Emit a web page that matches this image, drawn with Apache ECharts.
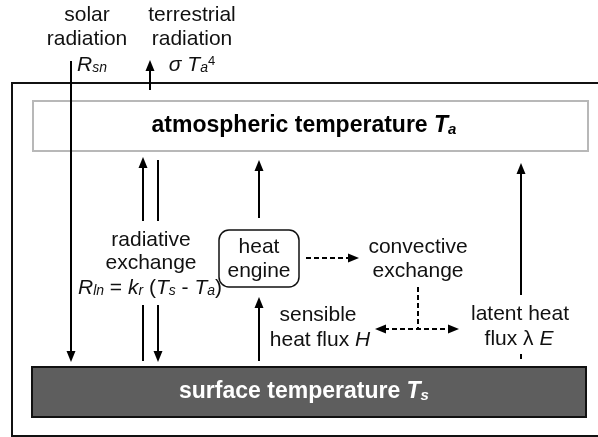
<!DOCTYPE html>
<html><head><meta charset="utf-8">
<script src="https://cdn.jsdelivr.net/npm/echarts@6/dist/echarts.min.js"></script>
<style>html,body{margin:0;padding:0;background:#fff}#c{width:598px;height:437px}</style>
</head><body><div id="c"></div>
<script>
// ---- diagram data (diagram coordinate space 0..598 x 0..437, y downward) ----
const boxNames = ['frame', 'atmosphere', 'surface', 'engine'];
const boxCorners = [
  [12, 83, 606, 436],
  [33, 101, 588, 151],
  [32, 367, 586, 417],
  [219, 230, 299, 287]
];
// [x1, y1, x2, y2, headAtEnd, headAtStart]
const solidArrows = [
  [71, 61, 71, 362, 1, 0],     // solar radiation
  [150, 90, 150, 60, 1, 0],    // terrestrial radiation
  [143, 221, 143, 157, 1, 0],  // radiative up
  [158, 160, 158, 221, 0, 0],
  [143, 305, 143, 361, 0, 0],
  [158, 305, 158, 362, 1, 0],  // radiative down
  [259, 218, 259, 160, 1, 0],  // engine -> atmosphere
  [259, 361, 259, 297, 1, 0],  // surface -> engine
  [521, 295, 521, 163, 1, 0]   // latent -> atmosphere
];
const dashedArrows = [
  [306, 258, 359, 258, 1, 0],
  [418, 287, 418, 329, 0, 0],
  [375, 329, 459, 329, 1, 1],
  [521, 354, 521, 361, 0, 0]
];
const labelTexts = [
  '{n|solar}', '{n|radiation}', '{i|R}{s|sn}',
  '{n|terrestrial}', '{n|radiation}', '{i|σ T}{s|a}{p|4}',
  '{n|radiative}', '{n|exchange}',
  '{i|R}{s|ln}{n| = }{i|k}{s|r}{n| (}{i|T}{s|s}{n| - }{i|T}{s|a}{n|)}',
  '{n|heat}', '{n|engine}',
  '{n|convective}', '{n|exchange}',
  '{n|sensible}', '{n|heat flux }{i|H}',
  '{n|latent heat}', '{n|flux λ }{i|E}'
];
const labelAnchors = [
  [87, 15], [87, 39], [92, 65],
  [192, 15], [192, 39], [192, 65],
  [151, 240], [151, 263], [150, 288],
  [259, 247], [259, 271],
  [418, 247], [418, 271],
  [318, 315], [320, 340],
  [520, 314], [519, 339]
];
const titleTexts = [
  '{b|atmospheric temperature }{bi|T}{bs|a}',
  '{b|surface temperature }{bi|T}{bs|s}'
];
const titleAnchors = [[304, 126], [304, 392]];

// ---- styles ----
const FF = '"Liberation Sans", Arial, Helvetica, sans-serif';
const RICH = {
  n: {fontSize: 21, fontFamily: FF, lineHeight: 21, verticalAlign: 'middle'},
  i: {fontSize: 21, fontFamily: FF, fontStyle: 'italic', lineHeight: 21, verticalAlign: 'middle'},
  s: {fontSize: 14, fontFamily: FF, fontStyle: 'italic', lineHeight: 12, verticalAlign: 'bottom'},
  p: {fontSize: 13, fontFamily: FF, lineHeight: 18, verticalAlign: 'top'},
  b: {fontSize: 23, fontFamily: FF, fontWeight: 'bold', lineHeight: 23, verticalAlign: 'middle'},
  bi: {fontSize: 23, fontFamily: FF, fontWeight: 'bold', fontStyle: 'italic', lineHeight: 23, verticalAlign: 'middle'},
  bs: {fontSize: 15, fontFamily: FF, fontWeight: 'bold', fontStyle: 'italic', lineHeight: 14, verticalAlign: 'bottom'}
};
const boxStyles = {
  frame: {fill: 'none', stroke: '#111', lineWidth: 2},
  atmosphere: {fill: '#fff', stroke: '#b8b8b8', lineWidth: 2},
  surface: {fill: '#5e5e5e', stroke: '#111', lineWidth: 2},
  engine: {fill: '#fff', stroke: '#111', lineWidth: 1.5}
};
const HL = 11, HW = 4.5;

function head(tip, ux, uy) {
  const bx = tip[0] - ux * HL, by = tip[1] - uy * HL;
  const px = -uy, py = ux;
  return {type: 'polygon', shape: {points: [[tip[0], tip[1]], [bx + px * HW, by + py * HW], [bx - px * HW, by - py * HW]]},
          style: {fill: '#000'}};
}
function arrowRender(dashed) {
  return function (params, api) {
    const a = api.coord([api.value(0), api.value(1)]);
    const b = api.coord([api.value(2), api.value(3)]);
    const dx = b[0] - a[0], dy = b[1] - a[1], len = Math.hypot(dx, dy);
    const ux = dx / len, uy = dy / len;
    let s = a.slice(), e = b.slice();
    const heads = [];
    if (api.value(4)) { e = [b[0] - ux * (HL - 2), b[1] - uy * (HL - 2)]; heads.push(head(b, ux, uy)); }
    if (api.value(5)) { s = [a[0] + ux * (HL - 2), a[1] + uy * (HL - 2)]; heads.push(head(a, -ux, -uy)); }
    const line = {type: 'line', shape: {x1: s[0], y1: s[1], x2: e[0], y2: e[1]},
      style: {stroke: '#000', lineWidth: 2, lineDash: dashed ? [5, 3] : null}};
    return {type: 'group', children: [line].concat(heads)};
  };
}
function textRender(texts, color) {
  return function (params, api) {
    const p = api.coord([api.value(0), api.value(1)]);
    return {type: 'text', style: {text: texts[params.dataIndex], x: p[0], y: p[1], align: 'center',
      verticalAlign: 'middle', fill: color, fontSize: 21, fontFamily: FF, rich: RICH}};
  };
}

const chart = echarts.init(document.getElementById('c'), null, {renderer: 'canvas'});
chart.setOption({
  animation: false,
  backgroundColor: '#fff',
  grid: {left: 0, right: 0, top: 0, bottom: 0},
  xAxis: {type: 'value', min: 0, max: 598, show: false},
  yAxis: {type: 'value', min: 0, max: 437, inverse: true, show: false},
  series: [
    {type: 'custom', coordinateSystem: 'cartesian2d', clip: false, z: 1,
     data: boxCorners, encode: {x: [0, 2], y: [1, 3]},
     renderItem: function (params, api) {
       const p1 = api.coord([api.value(0), api.value(1)]);
       const p2 = api.coord([api.value(2), api.value(3)]);
       const name = boxNames[params.dataIndex];
       return {type: 'rect', shape: {x: p1[0], y: p1[1], width: p2[0] - p1[0], height: p2[1] - p1[1],
         r: name === 'engine' ? 10 : 0}, style: boxStyles[name]};
     }},
    {type: 'custom', coordinateSystem: 'cartesian2d', clip: false, z: 2,
     data: solidArrows, encode: {x: [0, 2], y: [1, 3]}, renderItem: arrowRender(false)},
    {type: 'custom', coordinateSystem: 'cartesian2d', clip: false, z: 2,
     data: dashedArrows, encode: {x: [0, 2], y: [1, 3]}, renderItem: arrowRender(true)},
    {type: 'custom', coordinateSystem: 'cartesian2d', clip: false, z: 3,
     data: labelAnchors, encode: {x: 0, y: 1}, renderItem: textRender(labelTexts, '#111')},
    {type: 'custom', coordinateSystem: 'cartesian2d', clip: false, z: 3,
     data: [titleAnchors[0]], encode: {x: 0, y: 1}, renderItem: textRender([titleTexts[0]], '#000')},
    {type: 'custom', coordinateSystem: 'cartesian2d', clip: false, z: 3,
     data: [titleAnchors[1]], encode: {x: 0, y: 1}, renderItem: textRender([titleTexts[1]], '#fff')}
  ]
});
</script></body></html>
